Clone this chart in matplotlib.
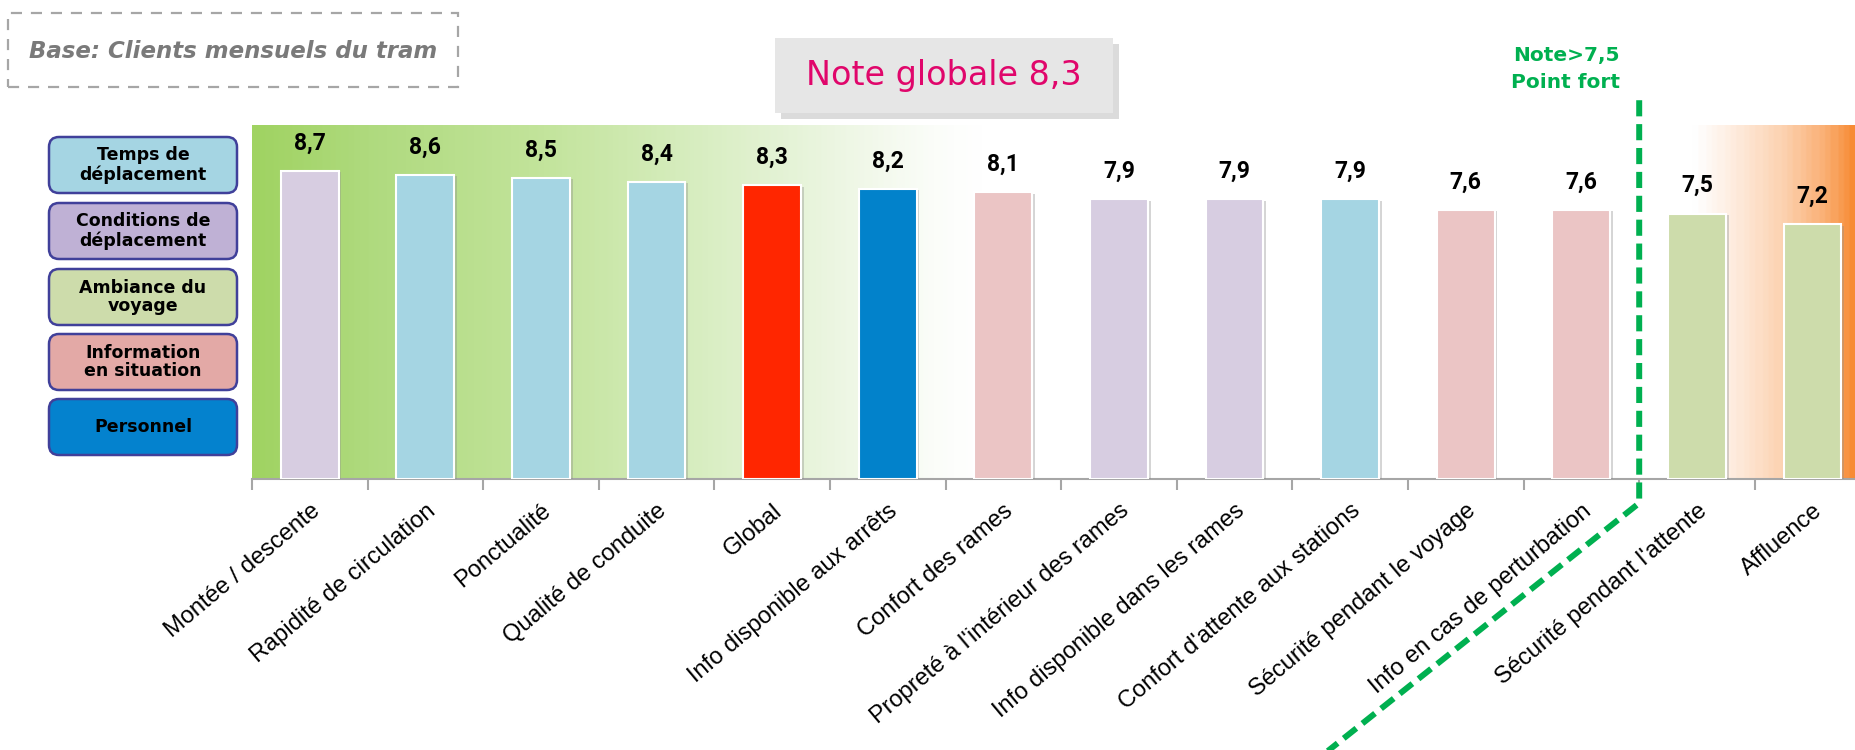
import numpy as np
import matplotlib.pyplot as plt
import matplotlib.patheffects as pe
from matplotlib.colors import LinearSegmentedColormap
from matplotlib.patches import FancyBboxPatch, Rectangle
from matplotlib import font_manager

# Données
categories = ['Montée / descente', 'Rapidité de circulation', 'Ponctualité',
              'Qualité de conduite', 'Global', 'Info disponible aux arrêts',
              'Confort des rames', "Propreté à l'intérieur des rames",
              'Info disponible dans les rames', "Confort d'attente aux stations",
              'Sécurité pendant le voyage', 'Info en cas de perturbation',
              "Sécurité pendant l'attente", 'Affluence']
notes = [8.7, 8.6, 8.5, 8.4, 8.3, 8.2, 8.1, 7.9, 7.9, 7.9, 7.6, 7.6, 7.5, 7.2]
couleurs = ['#d7cde1', '#a5d5e3', '#a5d5e3', '#a5d5e3', '#ff2600', '#0282cb',
            '#ebc5c5', '#d7cde1', '#d7cde1', '#a5d5e3', '#ebc5c5', '#ebc5c5',
            '#cddcab', '#cddcab']

legende_textes = ['Temps de\ndéplacement', 'Conditions de\ndéplacement',
                  'Ambiance du\nvoyage', 'Information\nen situation', 'Personnel']
legende_couleurs = ['#a5d5e3', '#bfb1d5', '#cddcab', '#e3a9a6', '#0482ce']

seuil = 7.5
note_globale = 8.3

installes = {f.name for f in font_manager.fontManager.ttflist}
etroite = 'Roboto' if 'Roboto' in installes else 'DejaVu Sans'
arial = 'Liberation Sans' if 'Liberation Sans' in installes else 'DejaVu Sans'

W, H = 1856, 750
fig = plt.figure(figsize=(W / 100, H / 100), dpi=100)


def fx(px):
    return px / W


def fy(py):
    return 1 - py / H


n = len(categories)
pas = 115.6
ax = fig.add_axes([fx(252), fy(479), n * pas / W, 354 / H])
ax.set_xlim(-0.5, n - 0.5)
ax.set_ylim(0, 10)

# Fond dégradé vert -> blanc -> orange
fond = LinearSegmentedColormap.from_list('fond', [
    (0.0, '#a0d362'), (0.07, '#afda7e'), (0.18, '#c3e49c'), (0.28, '#d9eec3'),
    (0.36, '#ecf6e2'), (0.42, '#fbfdf9'), (0.45, '#ffffff'), (0.894, '#ffffff'),
    (0.92, '#feeadb'), (0.95, '#fcd0ad'), (0.975, '#faae72'), (0.995, '#f7862b'),
    (1.0, '#f7862b')])
grad = np.linspace(0, 1, 600).reshape(1, -1)
ax.imshow(grad, cmap=fond, aspect='auto', extent=(-0.5, n - 0.5, 0, 10), zorder=0)

x = np.arange(n)
ax.bar(x, notes, width=0.5, color=couleurs, edgecolor='white', linewidth=1.5, zorder=3,
       path_effects=[pe.SimplePatchShadow(offset=(2, -1), shadow_rgbFace='#888888', alpha=0.35),
                     pe.Normal()])

for xi, v in zip(x, notes):
    ax.annotate(f'{v:.1f}'.replace('.', ','), (xi, v), xytext=(0, 20),
                textcoords='offset points', ha='center', va='center',
                fontsize=16.5, fontweight='bold', family=etroite, color='black')

for s in ['top', 'left', 'right']:
    ax.spines[s].set_visible(False)
ax.spines['bottom'].set_color('#a6a6a6')
ax.spines['bottom'].set_linewidth(1.5)
ax.set_yticks([])
ax.set_xticks(x)
ax.set_xticklabels(categories, rotation=40, ha='right', rotation_mode='anchor',
                   fontsize=17, family=arial)
ax.set_xticks(np.arange(-0.5, n, 1), minor=True)
ax.tick_params(axis='x', which='major', length=0, pad=15)
ax.tick_params(axis='x', which='minor', length=8, width=1.5, color='#a6a6a6')

# Ligne de seuil
idx = next(i for i, v in enumerate(notes) if v <= seuil)
xs = idx - 0.5
ax.plot([xs, xs, xs - 3.2], [10.7, -0.68, -9.0], color='#00b050', lw=4.3,
        ls=(0, (2.7, 1.3)), clip_on=False, zorder=5)
fig.text(fx(1566), fy(56), 'Note>7,5', color='#00b050', fontsize=14.5,
         fontweight='bold', ha='center', va='center')
fig.text(fx(1566), fy(82), 'Point fort', color='#00b050', fontsize=14.5,
         fontweight='bold', ha='center', va='center')

# Note globale
boite = FancyBboxPatch((fx(775), fy(113)), fx(1113 - 775), 75 / H, boxstyle='square,pad=0',
                       transform=fig.transFigure, facecolor='#e6e6e6', edgecolor='none',
                       path_effects=[pe.SimplePatchShadow(offset=(4, -4), shadow_rgbFace='#999999',
                                                          alpha=0.35), pe.Normal()])
fig.add_artist(boite)
fig.text(fx(944), fy(76), f'Note globale {note_globale:.1f}'.replace('.', ','),
         color='#e0066b', fontsize=24, ha='center', va='center')

# Base
fig.add_artist(Rectangle((fx(8), fy(87)), fx(450), 74 / H, transform=fig.transFigure,
                         fill=False, edgecolor='#a6a6a6', lw=1.6, ls=(0, (5, 4))))
fig.text(fx(233), fy(52), 'Base: Clients mensuels du tram', color='#7a7a7a',
         fontsize=16.5, style='italic', fontweight='bold', ha='center', va='center')

# Légende des thèmes
hauts = [137, 203, 269, 334, 399]
for t, c, y in zip(legende_textes, legende_couleurs, hauts):
    b = FancyBboxPatch((49 / 100, (H - y - 56) / 100), 188 / 100, 56 / 100,
                       boxstyle='round,pad=0,rounding_size=0.1', transform=fig.dpi_scale_trans,
                       facecolor=c, edgecolor='#40409a', lw=1.8)
    fig.add_artist(b)
    fig.text(fx(143), fy(y + 28), t, ha='center', va='center', fontsize=12.5,
             fontweight='bold', linespacing=1.05, color='black')

fig.savefig('out.png', dpi=100)
